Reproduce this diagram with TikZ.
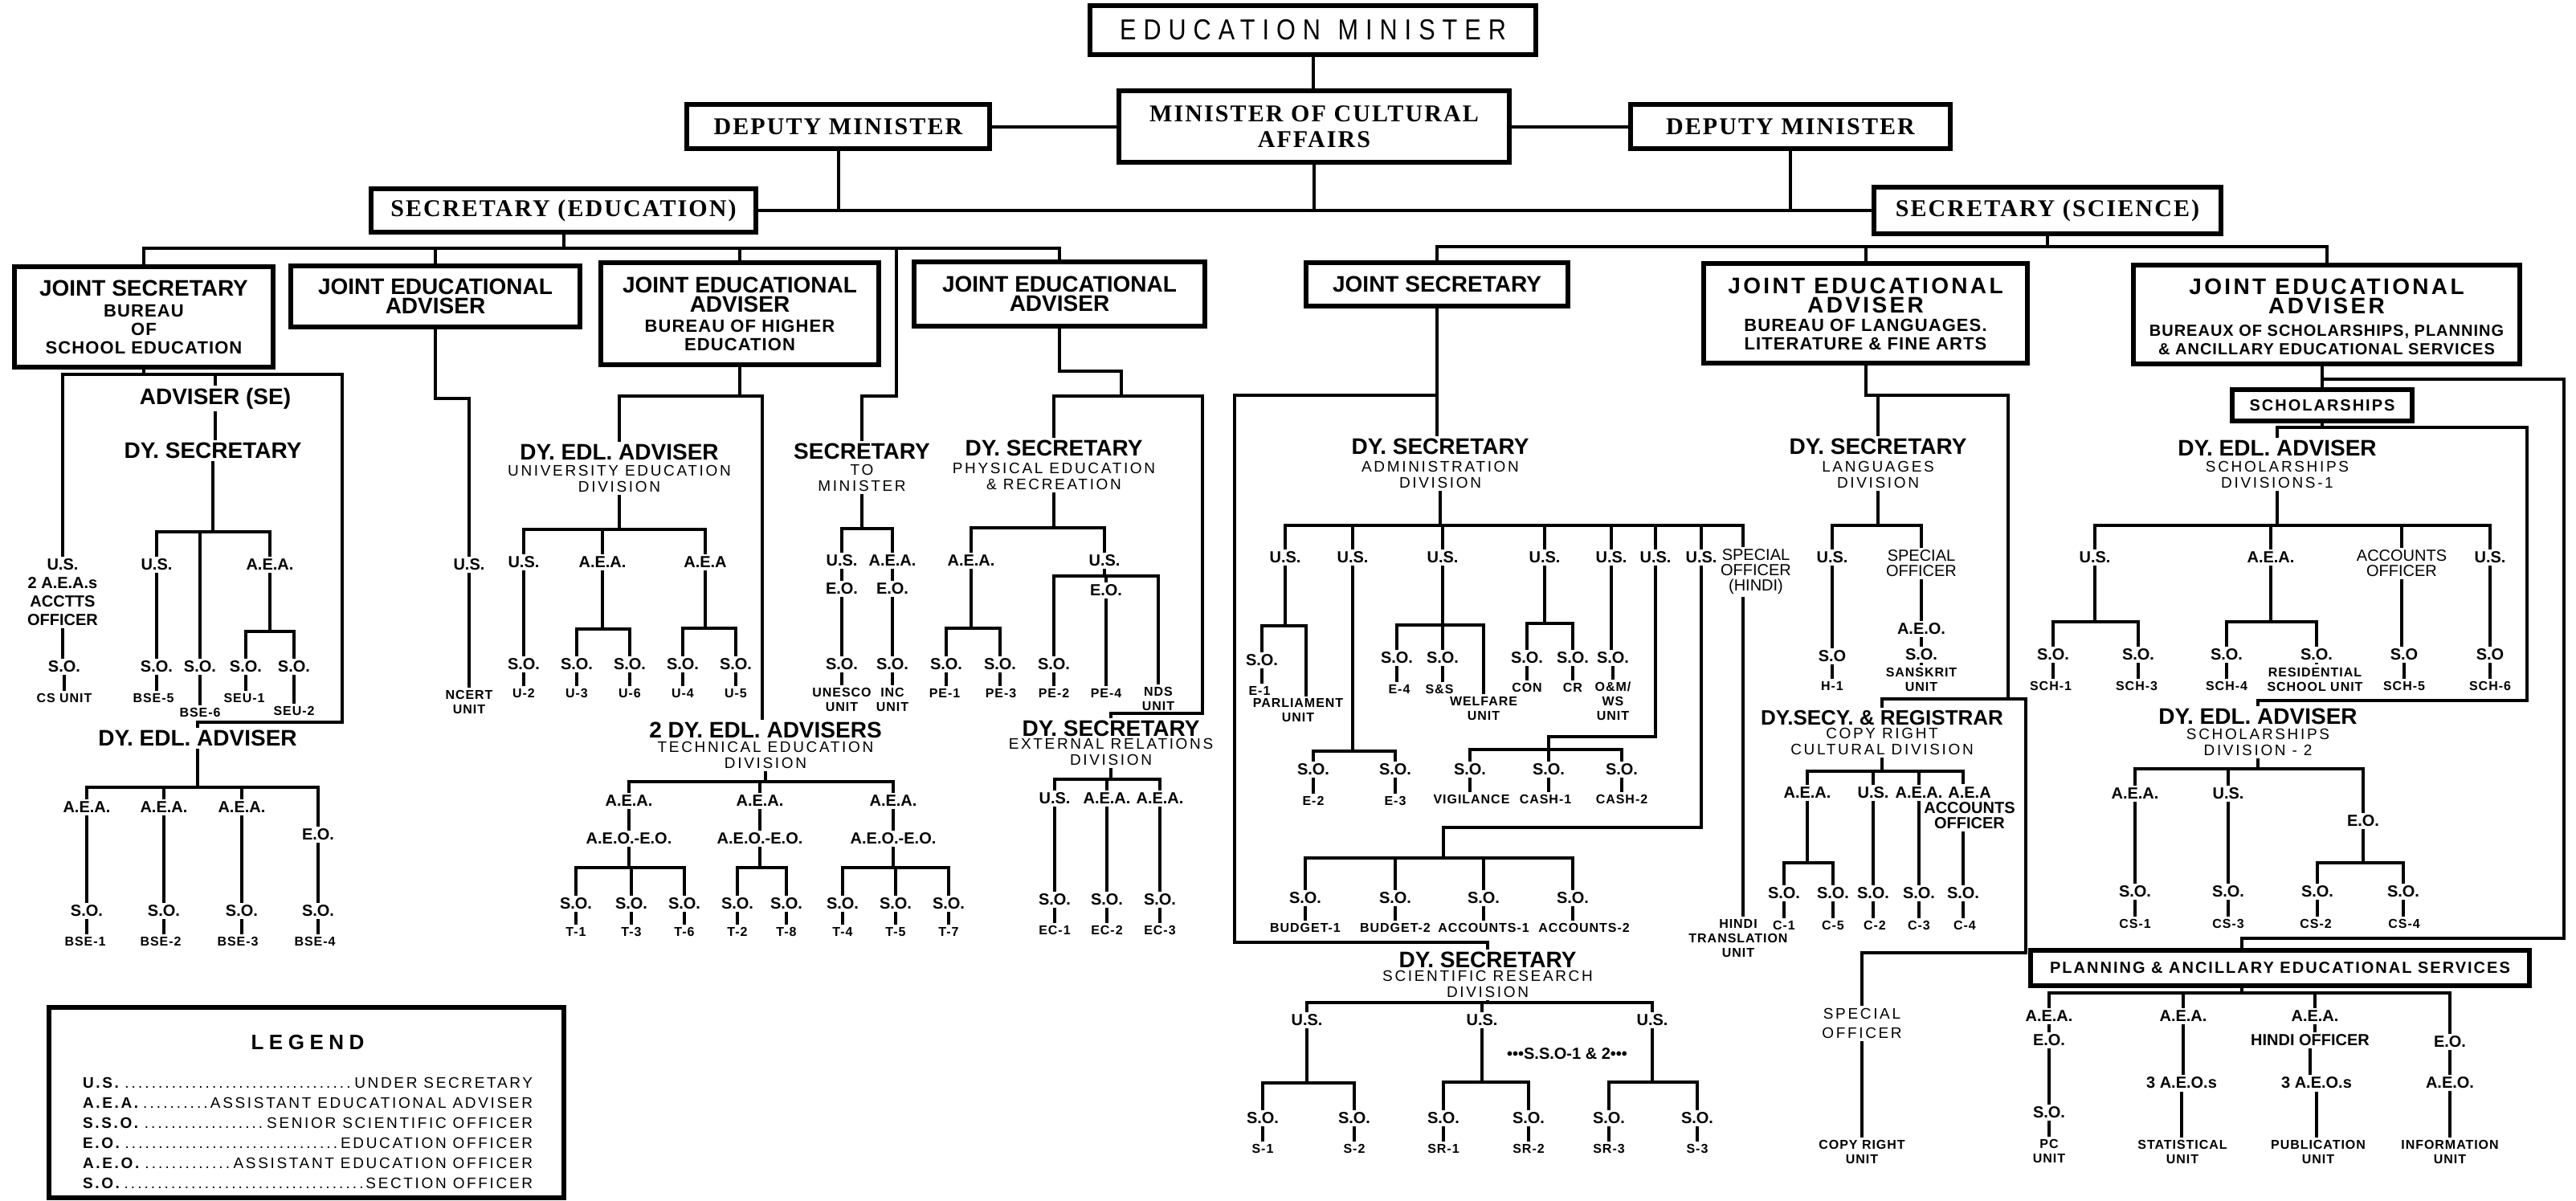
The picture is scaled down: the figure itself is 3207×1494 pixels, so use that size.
\documentclass[tikz,border=0pt]{standalone}
\usepackage{fontspec}
\setmainfont{Liberation Sans}
\newfontfamily\spacedsans{Liberation Sans}[LetterSpace=14]
\newfontfamily\boxsans{Liberation Sans}[LetterSpace=5]
\newfontfamily\widesans{Liberation Sans}[LetterSpace=10]
\newfontfamily\ttlwide{Liberation Sans}[LetterSpace=12]
\newfontfamily\unitsans{Liberation Sans}[LetterSpace=6]
\newfontfamily\legtitle{Liberation Sans}[LetterSpace=25]
\newfontfamily\edmfont{Liberation Sans}[FakeStretch=0.85,LetterSpace=25]
\newfontfamily\serifb{Liberation Serif}[LetterSpace=7]
\newcommand\busdown[3]{%
  \draw[ln] (#1.south) -- (#1.south |- #2);
  \foreach \ch in {#3}{\draw[ln] (\ch.north) |- (#1.south |- #2);}%
}
\newcommand\chainv[2]{\draw[ln] (#1.south) -- (#1.south |- #2.north);}
\begin{document}
\begin{tikzpicture}[x=0.5pt,y=-0.5pt,
  ln/.style={line width=2pt},
  bx/.style={draw, line width=2.6pt, inner sep=0pt, align=center},
  srf/.style={font=\serifb\bfseries\fontsize{15}{16}\selectfont},
  ttl/.style={font=\bfseries\fontsize{14}{12}\selectfont, inner sep=1.5pt, align=center},
  ttw/.style={font=\ttlwide\bfseries\fontsize{14}{12}\selectfont, inner sep=1.5pt, align=center},
  bsub/.style={font=\boxsans\bfseries\fontsize{11}{11.5}\selectfont, inner sep=1pt, align=center},
  sub/.style={font=\spacedsans\fontsize{9.5}{10}\selectfont, inner sep=1.5pt, align=center},
  lab/.style={font=\bfseries\fontsize{10}{9.5}\selectfont, inner sep=1.5pt, align=center},
  unt/.style={font=\unitsans\bfseries\fontsize{8}{9}\selectfont, inner sep=1.5pt, align=center},
  boxlab/.style={font=\widesans\bfseries\fontsize{10}{10}\selectfont},
]
\fill[white] (0,0) rectangle (3207,1494);
\useasboundingbox (0,0) rectangle (3207,1494);

% ---------------- top boxes
\node[bx,minimum width=277.5pt,minimum height=30.5pt,font=\edmfont\fontsize{18}{18}\selectfont] (edm) at (1634.5,37.5) {EDUCATION\hspace{0.6em}MINISTER};
\node[bx,srf,minimum width=243pt,minimum height=44.5pt] (mca) at (1636,157.5) {MINISTER OF CULTURAL\\AFFAIRS};
\node[bx,srf,minimum width=188.5pt,minimum height=27.5pt] (dml) at (1043.5,157.5) {DEPUTY MINISTER};
\node[bx,srf,minimum width=199pt,minimum height=27.5pt] (dmr) at (2229,157.5) {DEPUTY MINISTER};
\node[bx,srf,minimum width=239.5pt,minimum height=27pt] (sed) at (701.5,262) {SECRETARY (EDUCATION)};
\node[bx,srf,minimum width=216pt,minimum height=29pt] (ssc) at (2549,262) {SECRETARY (SCIENCE)};

% ---------------- level 3 boxes
\node[bx,minimum width=161pt,minimum height=62.5pt] (js1) at (179,394.5) {};
\node[ttl] (js1t) at (179,359) {JOINT SECRETARY};
\node[bsub] (js1s) at (179,410) {BUREAU\\OF\\SCHOOL EDUCATION};
\node[bx,ttl,minimum width=180pt,minimum height=38pt] (jea1) at (542,369) {JOINT EDUCATIONAL\\ADVISER};
\node[bx,minimum width=173pt,minimum height=63.5pt] (jea2) at (921,390.5) {};
\node[ttl] (jea2t) at (921,366.5) {JOINT EDUCATIONAL\\ADVISER};
\node[bsub] (jea2s) at (921,417) {BUREAU OF HIGHER\\EDUCATION};
\node[bx,ttl,minimum width=181pt,minimum height=40pt] (jea3) at (1319,366) {JOINT EDUCATIONAL\\ADVISER};
\node[bx,ttl,minimum width=163pt,minimum height=27pt] (jss) at (1789,354) {JOINT SECRETARY};
\node[bx,minimum width=201.5pt,minimum height=62pt] (jeal) at (2322.5,390) {};
\node[ttw] (jealt) at (2322.5,367.5) {JOINT EDUCATIONAL\\ADVISER};
\node[bsub] (jeals) at (2322.5,416) {BUREAU OF LANGUAGES.\\LITERATURE \& FINE ARTS};
\node[bx,minimum width=240.5pt,minimum height=61.5pt] (jeas) at (2896.5,391.5) {};
\node[ttw] (jeast) at (2896.5,368.5) {JOINT EDUCATIONAL\\ADVISER};
\node[bsub,font=\boxsans\bfseries\fontsize{10}{11.5}\selectfont] (jeass) at (2896.5,423.5) {BUREAUX OF SCHOLARSHIPS, PLANNING\\\& ANCILLARY EDUCATIONAL SERVICES};

% ---------------- school education
\node[ttl] (advse) at (268,496) {ADVISER (SE)};
\node[ttl] (dys1) at (265,561) {DY. SECRETARY};
\node[lab] (us0) at (78,737.5) {U.S.\\[2pt]2 A.E.A.s\\[2pt]ACCTTS\\[2pt]OFFICER};
\node[lab] (so0) at (80,830) {S.O.};
\node[unt] (cs0) at (80,869) {CS UNIT};
\node[lab] (us1a) at (195,703) {U.S.};
\node[lab] (aea1a) at (336,703) {A.E.A.};
\node[lab] (so1a) at (195,830) {S.O.};
\node[lab] (so1b) at (249,830) {S.O.};
\node[lab] (so1c) at (306,830) {S.O.};
\node[lab] (so1d) at (366,830) {S.O.};
\node[unt] (bse5) at (191,869) {BSE-5};
\node[unt] (bse6) at (249,887) {BSE-6};
\node[unt] (seu1) at (304,869) {SEU-1};
\node[unt] (seu2) at (366,885) {SEU-2};
\node[ttl] (dea1) at (246,919) {DY. EDL. ADVISER};
\node[lab] (aea2a) at (108,1005) {A.E.A.};
\node[lab] (aea2b) at (204,1005) {A.E.A.};
\node[lab] (aea2c) at (301,1005) {A.E.A.};
\node[lab] (eo2) at (396,1039) {E.O.};
\node[lab] (so2a) at (108,1134) {S.O.};
\node[lab] (so2b) at (204,1134) {S.O.};
\node[lab] (so2c) at (301,1134) {S.O.};
\node[lab] (so2d) at (396,1134) {S.O.};
\node[unt] (bse1) at (106,1172) {BSE-1};
\node[unt] (bse2) at (200,1172) {BSE-2};
\node[unt] (bse3) at (296,1172) {BSE-3};
\node[unt] (bse4) at (392,1172) {BSE-4};

% ---------------- legend
\node[draw,line width=2.6pt,minimum width=320.5pt,minimum height=118.5pt] (legend) at (381.5,1372.5) {};
\node[font=\legtitle\bfseries\fontsize{13}{13}\selectfont] (legh) at (383,1298) {LEGEND};
\node[font=\spacedsans\fontsize{9.5}{12.5}\selectfont,align=left,inner sep=0pt] (legt) at (383,1410.5) {%
\makebox[280pt]{\textbf{U.S.}\dotfill UNDER SECRETARY}\\
\makebox[280pt]{\textbf{A.E.A.}\dotfill ASSISTANT EDUCATIONAL ADVISER}\\
\makebox[280pt]{\textbf{S.S.O.}\dotfill SENIOR SCIENTIFIC OFFICER}\\
\makebox[280pt]{\textbf{E.O.}\dotfill EDUCATION OFFICER}\\
\makebox[280pt]{\textbf{A.E.O.}\dotfill ASSISTANT EDUCATION OFFICER}\\
\makebox[280pt]{\textbf{S.O.}\dotfill SECTION OFFICER}};

% ---------------- NCERT
\node[lab] (usn) at (584,703) {U.S.};
\node[unt] (ncert) at (584,874) {NCERT\\UNIT};

% ---------------- higher education
\node[ttl] (deau) at (771,563) {DY. EDL. ADVISER};
\node[sub] (deaus) at (771,596) {UNIVERSITY EDUCATION\\DIVISION};
\node[lab] (usu) at (652,700) {U.S.};
\node[lab] (aeu1) at (750,700) {A.E.A.};
\node[lab] (aeu2) at (878,700) {A.E.A};
\node[lab] (sou1) at (652,827) {S.O.};
\node[lab] (sou2) at (718,827) {S.O.};
\node[lab] (sou3) at (784,827) {S.O.};
\node[lab] (sou4) at (850,827) {S.O.};
\node[lab] (sou5) at (916,827) {S.O.};
\node[unt] (u2) at (652,863) {U-2};
\node[unt] (u3) at (718,863) {U-3};
\node[unt] (u6) at (784,863) {U-6};
\node[unt] (u4) at (850,863) {U-4};
\node[unt] (u5) at (916,863) {U-5};

% ---------------- secretary to minister
\node[ttl] (stm) at (1073,562) {SECRETARY};
\node[sub] (stms) at (1073,594.5) {TO\\MINISTER};
\node[lab] (usm) at (1048,698) {U.S.};
\node[lab] (aem) at (1111,698) {A.E.A.};
\node[lab] (eom1) at (1048,733) {E.O.};
\node[lab] (eom2) at (1111,733) {E.O.};
\node[lab] (som1) at (1048,827) {S.O.};
\node[lab] (som2) at (1111,827) {S.O.};
\node[unt] (unesco) at (1048,871) {UNESCO\\UNIT};
\node[unt] (inc) at (1111,871) {INC\\UNIT};

% ---------------- physical education
\node[ttl] (dysp) at (1312,558) {DY. SECRETARY};
\node[sub] (dysps) at (1312,593) {PHYSICAL EDUCATION\\\& RECREATION};
\node[lab] (aep) at (1209,698) {A.E.A.};
\node[lab] (usp) at (1375,698) {U.S.};
\node[lab] (sop1) at (1178,827) {S.O.};
\node[lab] (sop3) at (1245,827) {S.O.};
\node[lab] (sop2) at (1312,827) {S.O.};
\node[lab] (eop) at (1377,735) {E.O.};
\node[unt] (nds) at (1442,870) {NDS\\UNIT};
\node[unt] (pe1) at (1176,863) {PE-1};
\node[unt] (pe3) at (1246,863) {PE-3};
\node[unt] (pe2) at (1312,863) {PE-2};
\node[unt] (pe4) at (1377,863) {PE-4};

% ---------------- technical education
\node[ttl] (deat) at (953,909) {2 DY. EDL. ADVISERS};
\node[sub] (deats) at (953,940) {TECHNICAL EDUCATION\\DIVISION};
\node[lab] (aet1) at (783,997) {A.E.A.};
\node[lab] (aet2) at (946,997) {A.E.A.};
\node[lab] (aet3) at (1112,997) {A.E.A.};
\node[lab] (aeo1) at (783,1044) {A.E.O.-E.O.};
\node[lab] (aeo2) at (946,1044) {A.E.O.-E.O.};
\node[lab] (aeo3) at (1112,1044) {A.E.O.-E.O.};
\node[lab] (sot1) at (717,1125) {S.O.};
\node[lab] (sot3) at (786,1125) {S.O.};
\node[lab] (sot6) at (852,1125) {S.O.};
\node[lab] (sot2) at (918,1125) {S.O.};
\node[lab] (sot8) at (979,1125) {S.O.};
\node[lab] (sot4) at (1049,1125) {S.O.};
\node[lab] (sot5) at (1115,1125) {S.O.};
\node[lab] (sot7) at (1181,1125) {S.O.};
\node[unt] (t1) at (717,1160) {T-1};
\node[unt] (t3) at (786,1160) {T-3};
\node[unt] (t6) at (852,1160) {T-6};
\node[unt] (t2) at (918,1160) {T-2};
\node[unt] (t8) at (979,1160) {T-8};
\node[unt] (t4) at (1049,1160) {T-4};
\node[unt] (t5) at (1115,1160) {T-5};
\node[unt] (t7) at (1181,1160) {T-7};

% ---------------- external relations
\node[ttl] (dyse) at (1383,907) {DY. SECRETARY};
\node[sub] (dyses) at (1383,936) {EXTERNAL RELATIONS\\DIVISION};
\node[lab] (use) at (1313,994) {U.S.};
\node[lab] (aee1) at (1378,994) {A.E.A.};
\node[lab] (aee2) at (1444,994) {A.E.A.};
\node[lab] (soe1) at (1313,1120) {S.O.};
\node[lab] (soe2) at (1378,1120) {S.O.};
\node[lab] (soe3) at (1444,1120) {S.O.};
\node[unt] (ec1) at (1313,1158) {EC-1};
\node[unt] (ec2) at (1378,1158) {EC-2};
\node[unt] (ec3) at (1444,1158) {EC-3};

% ---------------- administration
\node[ttl] (dysa) at (1793,556) {DY. SECRETARY};
\node[sub] (dysas) at (1793,591) {ADMINISTRATION\\DIVISION};
\node[lab] (usa1) at (1600,694) {U.S.};
\node[lab] (usa2) at (1684,694) {U.S.};
\node[lab] (usa3) at (1796,694) {U.S.};
\node[lab] (usa4) at (1923,694) {U.S.};
\node[lab] (usa5) at (2006,694) {U.S.};
\node[lab] (usa6) at (2061,694) {U.S.};
\node[lab] (usa7) at (2118,694) {U.S.};
\node[lab,font=\fontsize{10}{9.5}\selectfont] (spoh) at (2186,712) {SPECIAL\\OFFICER\\(HINDI)};
\node[lab] (soa1) at (1571,822) {S.O.};
\node[unt] (e1) at (1568,860) {E-1};
\node[unt] (parl) at (1616,884.5) {PARLIAMENT\\UNIT};
\node[lab] (sae2) at (1635,958) {S.O.};
\node[lab] (sae3) at (1737,958) {S.O.};
\node[unt] (e2) at (1635,997) {E-2};
\node[unt] (e3) at (1737,997) {E-3};
\node[lab] (soa4) at (1739,819) {S.O.};
\node[lab] (soa5) at (1796,819) {S.O.};
\node[unt] (e4) at (1742,858) {E-4};
\node[unt] (ss) at (1792,858) {S\&S};
\node[unt] (welf) at (1847,882) {WELFARE\\UNIT};
\node[lab] (soa6) at (1901,819) {S.O.};
\node[lab] (soa7) at (1958,819) {S.O.};
\node[unt] (con) at (1901,856) {CON};
\node[unt] (cr) at (1958,856) {CR};
\node[lab] (soa8) at (2008,819) {S.O.};
\node[unt] (om) at (2008,873) {O\&M/\\WS\\UNIT};
\node[lab] (sova) at (1830,958) {S.O.};
\node[lab] (sovb) at (1928,958) {S.O.};
\node[lab] (sovc) at (2019,958) {S.O.};
\node[unt] (vig) at (1832,995) {VIGILANCE};
\node[unt] (cash1) at (1924,995) {CASH-1};
\node[unt] (cash2) at (2019,995) {CASH-2};
\node[lab] (sob1) at (1625,1118) {S.O.};
\node[lab] (sob2) at (1737,1118) {S.O.};
\node[lab] (sob3) at (1847,1118) {S.O.};
\node[lab] (sob4) at (1958,1118) {S.O.};
\node[unt] (bud1) at (1625,1155) {BUDGET-1};
\node[unt] (bud2) at (1737,1155) {BUDGET-2};
\node[unt] (acc1) at (1847,1155) {ACCOUNTS-1};
\node[unt] (acc2) at (1972,1155) {ACCOUNTS-2};
\node[unt] (hindi) at (2164,1168) {HINDI\\TRANSLATION\\UNIT};

% ---------------- scientific research
\node[ttl] (dysr) at (1852,1195) {DY. SECRETARY};
\node[sub] (dysrs) at (1852,1225) {SCIENTIFIC RESEARCH\\DIVISION};
\node[lab] (usr1) at (1627,1270) {U.S.};
\node[lab] (usr2) at (1845,1270) {U.S.};
\node[lab] (usr3) at (2057,1270) {U.S.};
\node[lab] (sso) at (1951,1312) {•••S.S.O-1 \& 2•••};
\node[lab] (sor1) at (1572,1392) {S.O.};
\node[lab] (sor2) at (1686,1392) {S.O.};
\node[lab] (sor3) at (1797,1392) {S.O.};
\node[lab] (sor4) at (1903,1392) {S.O.};
\node[lab] (sor5) at (2003,1392) {S.O.};
\node[lab] (sor6) at (2113,1392) {S.O.};
\node[unt] (s1) at (1572,1430) {S-1};
\node[unt] (s2) at (1686,1430) {S-2};
\node[unt] (sr1) at (1797,1430) {SR-1};
\node[unt] (sr2) at (1903,1430) {SR-2};
\node[unt] (sr3) at (2003,1430) {SR-3};
\node[unt] (s3) at (2113,1430) {S-3};

% ---------------- languages
\node[ttl] (dysl) at (2338,556) {DY. SECRETARY};
\node[sub] (dysls) at (2338,591) {LANGUAGES\\DIVISION};
\node[lab] (usl) at (2281,694) {U.S.};
\node[lab,font=\fontsize{10}{9.5}\selectfont] (spl) at (2392,701.5) {SPECIAL\\OFFICER};
\node[lab] (sol) at (2281,817) {S.O};
\node[unt] (h1) at (2281,854) {H-1};
\node[lab] (aeol) at (2392,783) {A.E.O.};
\node[lab] (sol2) at (2392,815) {S.O.};
\node[unt] (sans) at (2392,846) {SANSKRIT\\UNIT};
\node[ttl,font=\bfseries\fontsize{13}{12}\selectfont] (dyr) at (2343,894) {DY.SECY. \& REGISTRAR};
\node[sub] (dyrs) at (2343,923) {COPY RIGHT\\CULTURAL DIVISION};
\node[lab] (aec1) at (2250,987) {A.E.A.};
\node[lab] (usc) at (2332,987) {U.S.};
\node[lab] (aec2) at (2389,987) {A.E.A.};
\node[lab] (aec3) at (2452,1005.5) {A.E.A\\ACCOUNTS\\OFFICER};
\node[lab] (scc1) at (2221,1112) {S.O.};
\node[lab] (scc5) at (2282,1112) {S.O.};
\node[lab] (scc2) at (2332,1112) {S.O.};
\node[lab] (scc3) at (2389,1112) {S.O.};
\node[lab] (scc4) at (2444,1112) {S.O.};
\node[unt] (c1) at (2221,1152) {C-1};
\node[unt] (c5) at (2282,1152) {C-5};
\node[unt] (c2) at (2334,1152) {C-2};
\node[unt] (c3) at (2389,1152) {C-3};
\node[unt] (c4) at (2446,1152) {C-4};
\node[sub] (spc) at (2318,1274) {SPECIAL\\[2pt]OFFICER};
\node[unt] (cru) at (2318,1434) {COPY RIGHT\\UNIT};

% ---------------- scholarships
\node[bx,boxlab,minimum width=112pt,minimum height=19.5pt] (sch) at (2891,504.5) {SCHOLARSHIPS};
\node[ttl] (dyes1) at (2835,558) {DY. EDL. ADVISER};
\node[sub] (dyes1s) at (2835,591) {SCHOLARSHIPS\\DIVISIONS-1};
\node[lab] (uss1) at (2608,694) {U.S.};
\node[lab] (aes) at (2827,694) {A.E.A.};
\node[lab,font=\fontsize{10}{9.5}\selectfont] (aos) at (2990,701.5) {ACCOUNTS\\OFFICER};
\node[lab] (uss2) at (3100,694) {U.S.};
\node[lab] (sos1) at (2556,815) {S.O.};
\node[lab] (sos3) at (2662,815) {S.O.};
\node[lab] (sos4) at (2772,815) {S.O.};
\node[lab] (sos5) at (2884,815) {S.O.};
\node[lab] (sos6) at (2993,815) {S.O};
\node[lab] (sos7) at (3100,815) {S.O};
\node[unt] (sk1) at (2553,854) {SCH-1};
\node[unt] (sk3) at (2660,854) {SCH-3};
\node[unt] (sk4) at (2772,854) {SCH-4};
\node[unt] (res) at (2882,845.5) {RESIDENTIAL\\SCHOOL UNIT};
\node[unt] (sk5) at (2993,854) {SCH-5};
\node[unt] (sk6) at (3100,854) {SCH-6};
\node[ttl] (dyes2) at (2811,892) {DY. EDL. ADVISER};
\node[sub] (dyes2s) at (2811,924) {SCHOLARSHIPS\\DIVISION - 2};
\node[lab] (aes2) at (2658,988) {A.E.A.};
\node[lab] (uss3) at (2774,988) {U.S.};
\node[lab] (eos) at (2942,1022) {E.O.};
\node[lab] (sos8) at (2658,1110) {S.O.};
\node[lab] (sos9) at (2774,1110) {S.O.};
\node[lab] (sos10) at (2885,1110) {S.O.};
\node[lab] (sos11) at (2992,1110) {S.O.};
\node[unt] (cs1) at (2658,1150) {CS-1};
\node[unt] (cs3) at (2774,1150) {CS-3};
\node[unt] (cs2) at (2883,1150) {CS-2};
\node[unt] (cs4) at (2993,1150) {CS-4};

% ---------------- planning
\node[bx,boxlab,minimum width=310.5pt,minimum height=22pt] (pl) at (2838.5,1205) {PLANNING \& ANCILLARY EDUCATIONAL SERVICES};
\node[lab] (pa1) at (2551,1265) {A.E.A.};
\node[lab] (pa2) at (2718,1265) {A.E.A.};
\node[lab] (pa3) at (2882,1265) {A.E.A.};
\node[lab] (peo) at (3050,1297) {E.O.};
\node[lab] (pe1o) at (2551,1295) {E.O.};
\node[lab] (pso) at (2551,1385) {S.O.};
\node[unt] (pc) at (2551,1433) {PC\\UNIT};
\node[lab] (paeo) at (2716,1348) {3 A.E.O.s};
\node[unt] (stat) at (2717,1434) {STATISTICAL\\UNIT};
\node[lab] (hindio) at (2876,1295) {HINDI OFFICER};
\node[lab] (paeo2) at (2884,1348) {3 A.E.O.s};
\node[unt] (pub) at (2886,1434) {PUBLICATION\\UNIT};
\node[lab] (paeo3) at (3050,1348) {A.E.O.};
\node[unt] (info) at (3050,1434) {INFORMATION\\UNIT};

% ================= connectors
\draw[ln] (edm.south) -- (edm.south |- mca.north);
\draw[ln] (dml.east) -- (mca.west);
\draw[ln] (mca.east) -- (dmr.west);
\draw[ln] (sed.east) -- (ssc.west);
\draw[ln] (dml.south) -- (dml.south |- sed.east);
\draw[ln] (mca.south) -- (mca.south |- sed.east);
\draw[ln] (dmr.south) -- (dmr.south |- ssc.west);
\coordinate (bEd) at (707,309);
\busdown{sed}{bEd}{js1,jea1,jea2,jea3}
\coordinate (stmT) at (1116,493);
\draw[ln] (stm.north) |- (stmT) -- (stmT |- bEd);
\coordinate (bSc) at (2549,307);
\busdown{ssc}{bSc}{jss,jeal,jeas}

% school
\coordinate (seB) at (181,466);
\coordinate (seR) at (426,466);
\coordinate (seR2) at (426,899);
\draw[ln] (js1.south) -- (js1.south |- seB);
\draw[ln] (us0.north) |- (seR) -- (seR2) -| (dea1.north);
\draw[ln] (advse.north) -- (advse.north |- seB);
\chainv{advse}{dys1}
\chainv{us0}{so0} \chainv{so0}{cs0}
\coordinate (b1) at (265,662);
\busdown{dys1}{b1}{us1a,so1b,aea1a}
\chainv{us1a}{so1a} \chainv{so1a}{bse5} \chainv{so1b}{bse6}
\coordinate (b1s) at (336,786);
\busdown{aea1a}{b1s}{so1c,so1d}
\chainv{so1c}{seu1} \chainv{so1d}{seu2}
\coordinate (b2) at (246,980);
\busdown{dea1}{b2}{aea2a,aea2b,aea2c,eo2}
\chainv{aea2a}{so2a} \chainv{aea2b}{so2b} \chainv{aea2c}{so2c} \chainv{eo2}{so2d}
\chainv{so2a}{bse1} \chainv{so2b}{bse2} \chainv{so2c}{bse3} \chainv{so2d}{bse4}

% ncert
\coordinate (nc1) at (584,496);
\draw[ln] (jea1.south) |- (nc1) -- (usn.north);
\chainv{usn}{ncert}

% higher education
\coordinate (hbR) at (949,493);
\draw[ln] (jea2.south) -- (jea2.south |- hbR);
\draw[ln] (deau.north) |- (hbR) -- (hbR |- deat.north);
\coordinate (b3) at (771,659);
\busdown{deaus}{b3}{usu,aeu1,aeu2}
\chainv{usu}{sou1} \chainv{sou1}{u2}
\coordinate (b3a) at (750,783);
\busdown{aeu1}{b3a}{sou2,sou3}
\coordinate (b3b) at (878,782);
\busdown{aeu2}{b3b}{sou4,sou5}
\chainv{sou2}{u3} \chainv{sou3}{u6} \chainv{sou4}{u4} \chainv{sou5}{u5}

% secretary to minister
\coordinate (b4) at (1073,658);
\busdown{stms}{b4}{usm,aem}
\chainv{usm}{eom1} \chainv{eom1}{som1} \chainv{som1}{unesco}
\chainv{aem}{eom2} \chainv{eom2}{som2} \chainv{som2}{inc}

% physical education
\coordinate (pA) at (1396,462);
\coordinate (pB) at (1396,493);
\coordinate (pR) at (1497,493);
\coordinate (pR2) at (1497,888);
\draw[ln] (jea3.south) |- (pA) -- (pB);
\draw[ln] (dysp.north) |- (pR) -- (pR2) -| (dyse.north);
\coordinate (b5) at (1312,657);
\busdown{dysps}{b5}{aep,usp}
\coordinate (b5a) at (1209,782);
\busdown{aep}{b5a}{sop1,sop3}
\coordinate (b5b) at (1375,717);
\busdown{usp}{b5b}{sop2,eop,nds}
\chainv{sop1}{pe1} \chainv{sop3}{pe3} \chainv{sop2}{pe2} \chainv{eop}{pe4}

% technical
\coordinate (b6) at (953,973);
\busdown{deats}{b6}{aet1,aet2,aet3}
\chainv{aet1}{aeo1} \chainv{aet2}{aeo2} \chainv{aet3}{aeo3}
\coordinate (b6a) at (783,1080);
\busdown{aeo1}{b6a}{sot1,sot3,sot6}
\coordinate (b6b) at (946,1080);
\busdown{aeo2}{b6b}{sot2,sot8}
\coordinate (b6c) at (1112,1080);
\busdown{aeo3}{b6c}{sot4,sot5,sot7}
\chainv{sot1}{t1} \chainv{sot3}{t3} \chainv{sot6}{t6} \chainv{sot2}{t2}
\chainv{sot8}{t8} \chainv{sot4}{t4} \chainv{sot5}{t5} \chainv{sot7}{t7}

% external relations
\coordinate (b7) at (1383,970);
\busdown{dyses}{b7}{use,aee1,aee2}
\chainv{use}{soe1} \chainv{aee1}{soe2} \chainv{aee2}{soe3}
\chainv{soe1}{ec1} \chainv{soe2}{ec2} \chainv{soe3}{ec3}

% administration
\coordinate (aL) at (1537,492);
\coordinate (aL2) at (1537,1173);
\draw[ln] (jss.south) -- (jss.south |- dysa.north);
\draw[ln] (jss.south |- aL) -- (aL) -- (aL2) -| (dysr.north);
\coordinate (b8) at (1793,654);
\busdown{dysas}{b8}{usa1,usa2,usa3,usa4,usa5,usa6,usa7}
\draw[ln] ([xshift=-8pt]spoh.north) |- (dysas.south |- b8);
\coordinate (b8a) at (1600,779);
\busdown{usa1}{b8a}{soa1}
\draw[ln] ([xshift=5pt]parl.north) |- (usa1.south |- b8a);
\chainv{soa1}{e1}
\coordinate (b8b) at (1684,935);
\busdown{usa2}{b8b}{sae2,sae3}
\chainv{sae2}{e2} \chainv{sae3}{e3}
\coordinate (b8c) at (1796,778);
\busdown{usa3}{b8c}{soa4,soa5,welf}
\chainv{soa4}{e4} \chainv{soa5}{ss}
\coordinate (b8d) at (1923,776);
\busdown{usa4}{b8d}{soa6,soa7}
\chainv{soa6}{con} \chainv{soa7}{cr}
\chainv{usa5}{soa8} \chainv{soa8}{om}
\coordinate (a6) at (1928,917);
\coordinate (b8e) at (1928,933);
\draw[ln] (usa6.south) |- (a6) -- (b8e);
\foreach \ch in {sova,sovb,sovc}{\draw[ln] (\ch.north) |- (b8e);}
\chainv{sova}{vig} \chainv{sovb}{cash1} \chainv{sovc}{cash2}
\coordinate (a7) at (1797,1030);
\coordinate (b8f) at (1797,1068);
\draw[ln] (usa7.south) |- (a7) -- (b8f);
\foreach \ch in {sob1,sob2,sob3,sob4}{\draw[ln] (\ch.north) |- (b8f);}
\chainv{sob1}{bud1} \chainv{sob2}{bud2} \chainv{sob3}{acc1} \chainv{sob4}{acc2}
\draw[ln] ([xshift=-8pt]spoh.south) -- ([xshift=-8pt]spoh.south |- hindi.north);

% scientific research
\coordinate (b9) at (1852,1248);
\busdown{dysrs}{b9}{usr1,usr2,usr3}
\coordinate (b9a) at (1627,1348);
\busdown{usr1}{b9a}{sor1,sor2}
\coordinate (b9b) at (1845,1347);
\busdown{usr2}{b9b}{sor3,sor4}
\coordinate (b9c) at (2057,1347);
\busdown{usr3}{b9c}{sor5,sor6}
\chainv{sor1}{s1} \chainv{sor2}{s2} \chainv{sor3}{sr1}
\chainv{sor4}{sr2} \chainv{sor5}{sr3} \chainv{sor6}{s3}

% languages
\coordinate (lA) at (2500,492);
\coordinate (lB) at (2500,870);
\coordinate (lC) at (2522,870);
\coordinate (lD) at (2522,1186);
\draw[ln] (jeal.south) |- (lA) -- (lB);
\draw[ln] (dysl.north) -- (dysl.north |- lA);
\draw[ln] (dyr.north) |- (lC) -- (lD) -| (spc.north);
\chainv{spc}{cru}
\coordinate (b10) at (2338,654);
\busdown{dysls}{b10}{usl,spl}
\chainv{usl}{sol} \chainv{sol}{h1}
\chainv{spl}{aeol} \chainv{aeol}{sol2} \chainv{sol2}{sans}
\coordinate (b11) at (2343,960);
\busdown{dyrs}{b11}{aec1,usc,aec2}
\draw[ln] ([xshift=-4pt]aec3.north) |- (dyrs.south |- b11);
\coordinate (b11a) at (2250,1074);
\busdown{aec1}{b11a}{scc1,scc5}
\chainv{usc}{scc2} \chainv{aec2}{scc3}
\draw[ln] ([xshift=-4pt]aec3.south) -- ([xshift=-4pt]aec3.south |- scc4.north);
\chainv{scc1}{c1} \chainv{scc5}{c5} \chainv{scc2}{c2} \chainv{scc3}{c3} \chainv{scc4}{c4}

% scholarships
\coordinate (sA) at (3192,472);
\coordinate (sB) at (3192,1168);
\coordinate (sc1) at (3146,532);
\coordinate (sc2) at (3146,872);
\draw[ln] (jeas.south -| sch.north) -- (sch.north);
\draw[ln] (sch.north |- sA) -- (sA) -- (sB) -| ([xshift=-23.75pt]pl.north);
\draw[ln] (sch.south) -- (sch.south |- sc1);
\draw[ln] (dyes1.north) |- (sc1) -- (sc2) -| (dyes2.north);
\coordinate (b12) at (2835,654);
\busdown{dyes1s}{b12}{uss1,aes,aos,uss2}
\coordinate (b12a) at (2608,774);
\busdown{uss1}{b12a}{sos1,sos3}
\coordinate (b12b) at (2827,774);
\busdown{aes}{b12b}{sos4,sos5}
\chainv{aos}{sos6} \chainv{uss2}{sos7}
\chainv{sos1}{sk1} \chainv{sos3}{sk3} \chainv{sos4}{sk4} \chainv{sos5}{res}
\chainv{sos6}{sk5} \chainv{sos7}{sk6}
\coordinate (b13) at (2811,957);
\busdown{dyes2s}{b13}{aes2,uss3,eos}
\chainv{aes2}{sos8} \chainv{uss3}{sos9}
\coordinate (b13a) at (2942,1074);
\busdown{eos}{b13a}{sos10,sos11}
\chainv{sos8}{cs1} \chainv{sos9}{cs3} \chainv{sos10}{cs2} \chainv{sos11}{cs4}

% planning
\coordinate (b14) at (2791,1236);
\draw[ln] ([xshift=-23.75pt]pl.south) -- ([xshift=-23.75pt]pl.south |- b14);
\foreach \ch in {pa1,pa2,pa3,peo}{\draw[ln] (\ch.north) |- (b14);}
\chainv{pa1}{pe1o} \chainv{pe1o}{pso} \chainv{pso}{pc}
\chainv{pa2}{paeo} \chainv{paeo}{stat}
\chainv{pa3}{hindio} \chainv{hindio}{paeo2} \chainv{paeo2}{pub}
\chainv{peo}{paeo3} \chainv{paeo3}{info}
\end{tikzpicture}
\end{document}
